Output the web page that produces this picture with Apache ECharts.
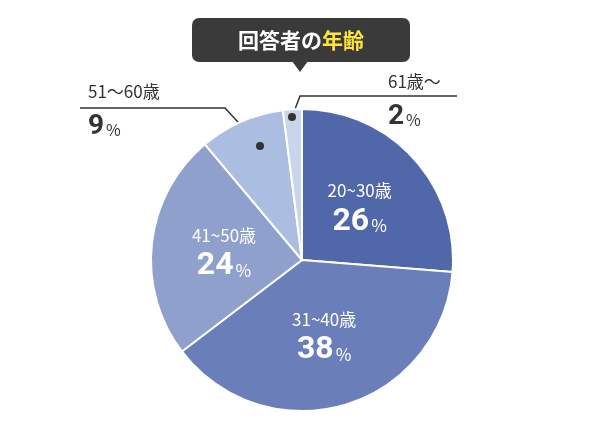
<!DOCTYPE html>
<html><head><meta charset="utf-8">
<script src="https://cdn.jsdelivr.net/npm/echarts@6/dist/echarts.min.js"></script>
<style>html,body{margin:0;background:#fff}#c{width:600px;height:430px}</style>
</head><body><div id="c"></div>
<script>
const categories = ['20~30歳','31~40歳','41~50歳','51～60歳','61歳～'];
const values = [26,38,24,9,2];
const colors = ['#5067a9','#6a7fb9','#8ea0cb','#abbde0','#c9d5ec'];
const chart = echarts.init(document.getElementById('c'));
const F = '"Noto Sans CJK JP", sans-serif';
const inLabel = {show:true, position:'inside', color:'#fff', fontFamily:F,
  formatter: p => '{n|'+p.name+'}\n{v|'+p.value+'}{p|%}',
  rich:{n:{fontSize:17,color:'#fff',lineHeight:30,fontFamily:F},
        v:{fontSize:32,fontWeight:'bold',color:'#fff',fontFamily:'Roboto'},
        p:{fontSize:17,color:'#fff',padding:[8,0,0,2]}}};
const outRich = {n:{fontSize:17,color:'#333',lineHeight:34,fontFamily:F},
        v:{fontSize:28,fontWeight:'bold',color:'#333',fontFamily:'Roboto'},
        p:{fontSize:16,color:'#333',padding:[6,0,0,2]}};
const pos = {3:{x:88,y:110,align:'left',line:[[260,146],[225,108],[80,108]]},
             4:{x:388,y:100,align:'left',line:[[292,117],[300,96],[457,96]]}};
chart.setOption({
  graphic:[
    {type:'rect',shape:{x:192,y:18,width:218,height:44,r:7},style:{fill:'#3a3a3a'}},
    {type:'polygon',shape:{points:[[292,61],[308,61],[300,72]]},style:{fill:'#3a3a3a'}},
    {type:'text',style:{x:301,y:40,align:'center',verticalAlign:'middle',
      text:'{a|回答者の}{b|年齢}',rich:{a:{fill:'#fff',fontSize:21,fontWeight:'bold',fontFamily:F},b:{fill:'#ffe33c',fontSize:21,fontWeight:'bold',fontFamily:F}}}},
    {type:'circle',shape:{cx:260,cy:146,r:4},style:{fill:'#333'},z:100},
    {type:'circle',shape:{cx:292,cy:117,r:4},style:{fill:'#333'},z:100}
  ],
  series:[{type:'pie',center:[302,260],radius:[0,151],startAngle:90,clockwise:true,
    itemStyle:{borderColor:'#fff',borderWidth:2},
    labelLine:{show:true,lineStyle:{color:'#333',width:1.5},length:10,length2:10},
    label:inLabel,
    labelLayout: p => {const o=pos[p.dataIndex]; if(!o) return {}; return {x:o.x,y:o.y,align:o.align,verticalAlign:'middle',labelLinePoints:o.line};},
    emphasis:{disabled:true},
    data: values.map((v,i)=>{
      const d={name:categories[i],value:v,itemStyle:{color:colors[i]}};
      if(i>=3){d.label={show:true,position:'outside',formatter:p=>'{n|'+p.name+'}\n{v|'+p.value+'}{p|%}',rich:outRich,lineHeight:36};}
      else d.labelLine={show:false};
      return d;})
  }]
});
</script></body></html>
